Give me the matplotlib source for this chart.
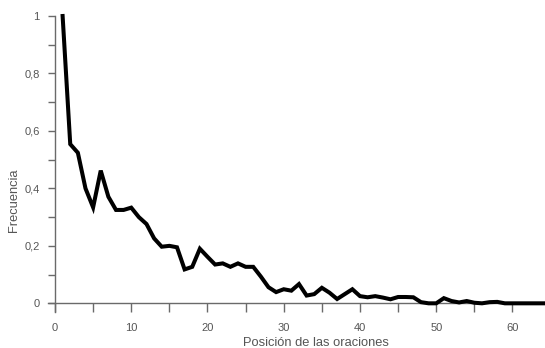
import numpy as np
from matplotlib import pyplot as plt
from matplotlib.ticker import MultipleLocator, FuncFormatter

plt.rcParams['font.family'] = ['Liberation Sans', 'DejaVu Sans']

# posición de la oración y frecuencia relativa
positions = np.arange(1, 65)
frequency = [1.0, 0.554, 0.524, 0.40, 0.334, 0.462, 0.371, 0.325, 0.325, 0.333,
             0.30, 0.276, 0.226, 0.197, 0.20, 0.195, 0.118, 0.127, 0.19, 0.162,
             0.135, 0.139, 0.127, 0.139, 0.127, 0.127, 0.093, 0.056, 0.039, 0.049,
             0.044, 0.067, 0.027, 0.032, 0.054, 0.037, 0.015, 0.032, 0.049, 0.025,
             0.021, 0.025, 0.02, 0.014, 0.022, 0.022, 0.021, 0.004, 0.0, 0.0,
             0.018, 0.008, 0.003, 0.008, 0.002, 0.0, 0.004, 0.005, 0.0, 0.0,
             0.0, 0.0, 0.0, 0.0]

grey = '#6a6a6a'
text_grey = '#555555'

fig = plt.figure(figsize=(5.45, 3.48), dpi=100)
ax = fig.add_axes([0.1009, 0.1284, 0.8954, 0.8256])
ax.plot(positions, frequency, color='#000000', linewidth=2.9,
        solid_joinstyle='miter', clip_on=False, zorder=3)

ax.set_xlim(0, 64)
ax.set_ylim(0, 1)

ax.xaxis.set_major_locator(MultipleLocator(10))
ax.xaxis.set_minor_locator(MultipleLocator(5))
ax.yaxis.set_major_locator(MultipleLocator(0.2))
ax.yaxis.set_minor_locator(MultipleLocator(0.1))
ax.yaxis.set_major_formatter(FuncFormatter(lambda v, p: ('%g' % round(v, 1)).replace('.', ',')))

for side in ['top', 'right']:
    ax.spines[side].set_visible(False)
for side in ['left', 'bottom']:
    ax.spines[side].set_color(grey)
    ax.spines[side].set_linewidth(1.0)
ax.spines['left'].set_bounds(-0.03, 1)
ax.spines['bottom'].set_bounds(-0.9, 64)

ax.tick_params(axis='x', which='both', direction='out', length=6.5, width=1,
               color=grey, labelcolor=text_grey, labelsize=8, pad=7.5)
ax.tick_params(axis='y', which='both', direction='out', length=5, width=1,
               color=grey, labelcolor=text_grey, labelsize=8, pad=6)

ax.set_xlabel('Posición de las oraciones', fontsize=9.3, color=text_grey)
ax.set_ylabel('Frecuencia', fontsize=9.3, color=text_grey)
ax.xaxis.set_label_coords(0.535, -0.118)
ax.yaxis.set_label_coords(-0.072, 0.36)

fig.savefig('out.png', dpi=100)
